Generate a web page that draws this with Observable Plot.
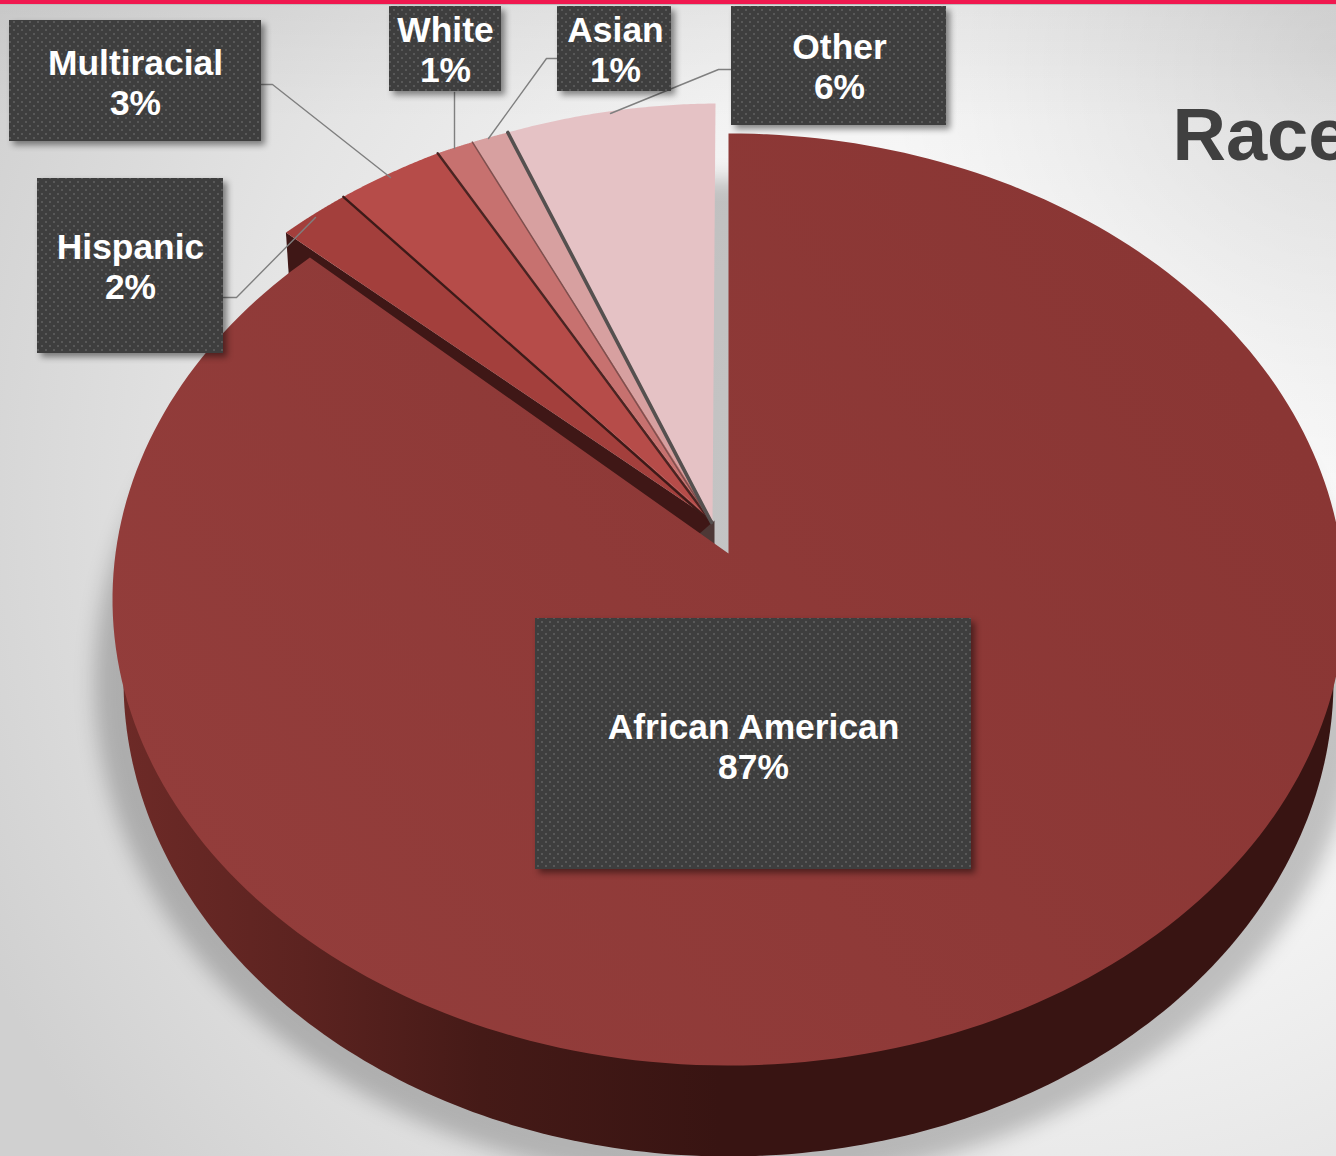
<!DOCTYPE html>
<html>
<head>
<meta charset="utf-8">
<script src="https://cdn.jsdelivr.net/npm/d3@7"></script>
<script src="https://cdn.jsdelivr.net/npm/@observablehq/plot@0.6"></script>
<style>
html,body{margin:0;padding:0;width:1336px;height:1156px;overflow:hidden}
body{background:
 linear-gradient(#f0184f 0 4px,#bdbdbd 4px 5px,transparent 5px),
 radial-gradient(circle 450px at 1336px 50px,rgba(0,0,0,.1),transparent),
 linear-gradient(rgba(0,0,0,.04) 5px,transparent 120px),
 radial-gradient(ellipse 1150px 1100px at 1030px 500px,#ffffff 0,#fbfbfb 20%,#f2f2f2 45%,#e4e4e4 70%,#d0d0d0 100%);}
svg{display:block}
</style>
</head>
<body>
<script>
// ---- chart data ----
const categories = ["African American","Hispanic","Multiracial","White","Asian","Other"];
const shares = [87,2,3,1,1,6];
const sliceColors = ["url(#topMain)","#a33f3c","#b64c49","#c7716f","#d7a0a0","#e5c2c5"];

// ---- annotation layout ----
const boxLeft   = [535,37,9,389,557,731];
const boxRight  = [971,223,261,501,671,946];
const boxTop    = [618,178,20,6,6,6];
const boxBottom = [869,353,141,91,91,125];
const labelX    = [753,130,135,445,615,839];
const labelY    = [745.5,265.5,81.5,48.5,48.5,65.5];
const leaderX   = [null,[223,236,315],[261,272,390],[454,454],[557,546,488],[731,718,610]];
const leaderY   = [null,[297,297,217],[84,84,177],[92,148],[58,58,138],[69,69,113]];

// ---- pie geometry: a tilted disc seen in perspective ----
const total = d3.sum(shares);
const cum = d3.cumsum(shares);
const startDeg = i => i === 0 ? 0 : cum[i-1] / total * 360;
const endDeg = i => cum[i] / total * 360;
const rad = d => d * Math.PI / 180;
const disc = {cx:728, cy:553, rx:613, ry:461.5, tilt:0.0987};
const project = deg => {
  const s = Math.sin(rad(deg)), c = Math.cos(rad(deg)), w = 1 + disc.tilt * c;
  return [disc.cx + disc.rx * s / w, disc.cy - disc.ry * c / w];
};
const explodedApex = [712,520];
const shiftX = d3.scaleLinear().domain([313.2,331.2,338.4,360]).range([24,19,14,13]);
const shiftY = d3.scaleLinear().domain([313.2,331.2,338.4,360]).range([25,28,28,30]);
const explodedRim = deg => { const p = project(deg); return [p[0]-shiftX(deg), p[1]-shiftY(deg)]; };

const slicePts = [];
categories.forEach((name,i) => {
  const rimFn = i === 0 ? project : explodedRim;
  const apex = i === 0 ? [disc.cx,disc.cy] : explodedApex;
  const n = i === 0 ? 240 : 60;
  const pts = d3.range(0,n+1).map(k => rimFn(startDeg(i) + (endDeg(i)-startDeg(i))*k/n));
  [apex,...pts,apex].forEach((p,k) => slicePts.push({name, x:p[0], y:p[1], fill:sliceColors[i], k}));
});

// side wall: lower ellipse of the disc
const ellipse = (cx,cy,rx,ry,a,b) => d3.range(0,181).map(k => {
  const t = rad(a + (b-a)*k/180); return {x:cx + rx*Math.cos(t), y:cy + ry*Math.sin(t)};
});
const sidePts = ellipse(728,680,605,476,0,180);
const shadowPts = ellipse(728,682,634,503,0,360);

// walls of the pulled-out slices
const hispRim = explodedRim(startDeg(1));
const wallPts = [
  {x:hispRim[0],y:hispRim[1]},{x:explodedApex[0],y:explodedApex[1]},
  {x:explodedApex[0],y:explodedApex[1]+30},{x:hispRim[0]+3,y:hispRim[1]+45}
];
const corePts = [
  {x:explodedApex[0]+2,y:explodedApex[1]},{x:explodedApex[0]+2,y:explodedApex[1]+27},{x:explodedApex[0]-14,y:explodedApex[1]+14}
];
const seamStyle = [null,["#3d1a18",2.4],["#4a2422",2.4],["#7f4f4e",1.5],["#55504f",3.6]];
const seams = [];
[2,3,4,5].forEach(i => {
  const r = explodedRim(startDeg(i));
  seams.push({i, x:r[0], y:r[1], c:seamStyle[i-1][0], w:seamStyle[i-1][1]});
  seams.push({i, x:explodedApex[0]-1, y:explodedApex[1]+2, c:seamStyle[i-1][0], w:seamStyle[i-1][1]});
});

const boxes = categories.map((name,i) => ({name, share:shares[i], x1:boxLeft[i], x2:boxRight[i], y1:boxTop[i], y2:boxBottom[i], lx:labelX[i], ly:labelY[i]}));
const leaders = [];
categories.forEach((name,i) => { if (leaderX[i]) leaderX[i].forEach((x,k) => leaders.push({name, x, y:leaderY[i][k]})); });

const defs = () => d3.create("svg:g").html(`<defs>
<linearGradient id="sideGrad" gradientUnits="userSpaceOnUse" x1="123" y1="0" x2="720" y2="0">
<stop offset="0" stop-color="#6d2a27"/><stop offset="0.3" stop-color="#5c2320"/><stop offset="0.6" stop-color="#451a17"/><stop offset="1" stop-color="#381412"/></linearGradient>
<linearGradient id="topMain" gradientUnits="userSpaceOnUse" x1="250" y1="950" x2="1200" y2="300">
<stop offset="0" stop-color="#933d3b"/><stop offset="1" stop-color="#8a3634"/></linearGradient>
<pattern id="dots" patternUnits="userSpaceOnUse" width="8" height="8">
<rect width="8" height="8" fill="#3e3e3e"/><rect x="1" y="1" width="2" height="2" fill="#585858"/><rect x="5" y="5" width="2" height="2" fill="#585858"/></pattern>
</defs>`).node();

const chart = Plot.plot({
  width:1336, height:1156, margin:0,
  style:{background:"transparent",fontFamily:"'Liberation Sans',Arial,sans-serif"},
  x:{domain:[0,1336],axis:null},
  y:{domain:[1156,0],axis:null},
  marks:[
    defs,
    Plot.text(["Race"],{x:1172,y:136,text:d=>d,textAnchor:"start",lineAnchor:"middle",fontSize:74,fontWeight:700,fill:"#404040"}),
    Plot.line(shadowPts,{x:"x",y:"y",fill:"#000",stroke:"none",fillOpacity:0.21,imageFilter:"blur(10px)"}),
    Plot.line(sidePts,{x:"x",y:"y",fill:"url(#sideGrad)",stroke:"none"}),
    Plot.line(wallPts,{x:"x",y:"y",fill:"#3f1716",stroke:"none"}),
    Plot.line(corePts,{x:"x",y:"y",fill:"#4d3836",stroke:"none"}),
    Plot.line(slicePts.filter(d=>d.name!=="African American"),{x:"x",y:"y",z:"name",fill:"fill",stroke:"none"}),
    Plot.line(seams,{x:"x",y:"y",z:"i",stroke:"c",strokeWidth:"w"}),
    Plot.line(slicePts.filter(d=>d.name==="African American"),{x:"x",y:"y",z:"name",fill:"fill",stroke:"none"}),
    Plot.line(leaders,{x:"x",y:"y",z:"name",stroke:"#7f7f7f",strokeWidth:1.4}),
    Plot.rect(boxes,{x1:"x1",x2:"x2",y1:"y1",y2:"y2",fill:"url(#dots)",imageFilter:"drop-shadow(4px 4px 3px rgba(0,0,0,.45))"}),
    Plot.text(boxes,{x:"lx",y:"ly",text:d=>`${d.name}\n${d.share}%`,fill:"#fff",fontSize:35.4,fontWeight:700,lineHeight:1.14,lineAnchor:"middle"})
  ]
});
document.body.appendChild(chart);
</script>
</body>
</html>
